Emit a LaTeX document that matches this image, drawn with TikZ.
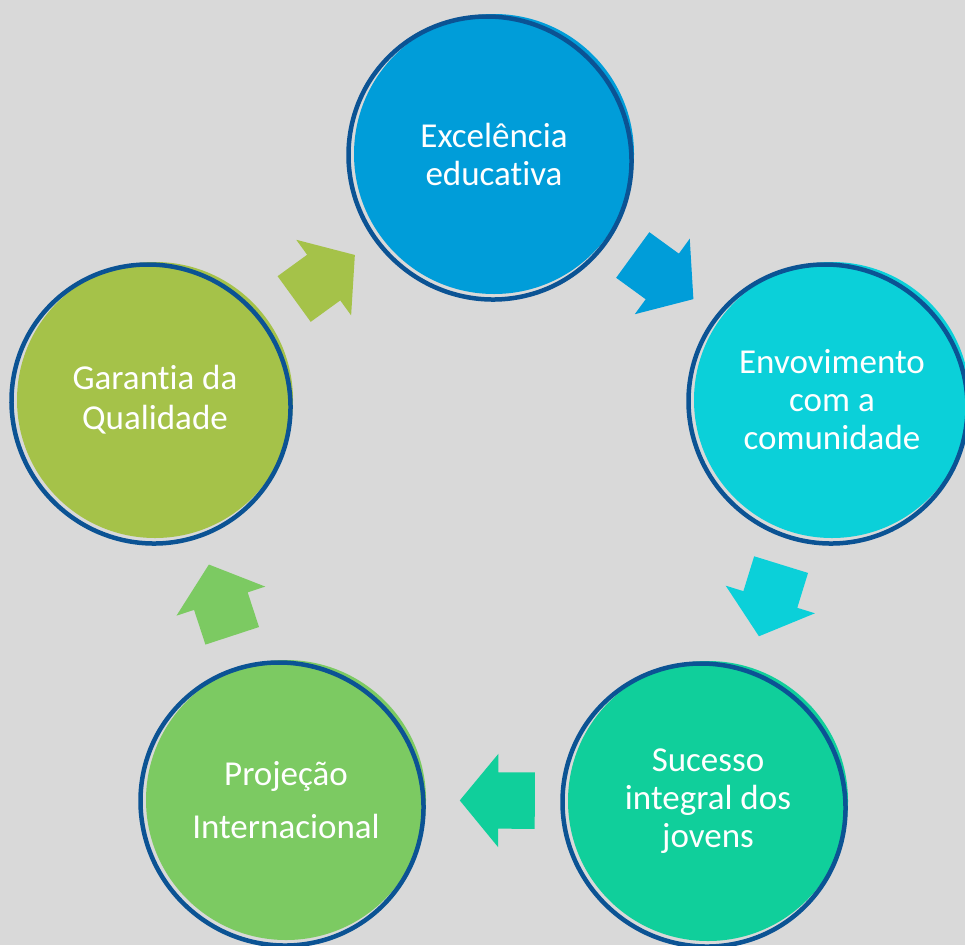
\documentclass[tikz,border=0pt]{standalone}
\usepackage{fontspec}
\setmainfont{Carlito}[Ligatures={NoCommon}]
\usepackage{xcolor}
\usepackage{tikz}
\usetikzlibrary{shapes.arrows}

\definecolor{bgGrey}{HTML}{D9D9D9}
\definecolor{ringBlue}{HTML}{0B5394}
\definecolor{excBlue}{HTML}{009DD9}
\definecolor{envCyan}{HTML}{0BD0D9}
\definecolor{sucGreen}{HTML}{10CF9B}
\definecolor{proGreen}{HTML}{7CCA62}
\definecolor{garOlive}{HTML}{A5C249}

\begin{document}
\begin{tikzpicture}[x=1pt, y=-1pt,
    bubble/.style={circle, inner sep=0pt, text=white, align=center, font=\fontsize{35}{38}\selectfont},
    ring/.style={draw=ringBlue, line width=4.5pt},
    flow/.style={single arrow, inner xsep=0pt, inner ysep=28pt, minimum height=75pt,
        single arrow head extend=18.5pt, single arrow tip angle=101,
        sloped, allow upside down, pos=0.41, anchor=tail}]
    % Background
    \clip (0,0) rectangle (965,945);
    \fill[bgGrey] (0,0) rectangle (965,945);

    % Circles
    \node[bubble, fill=excBlue, minimum size=280pt] (exc) at (494,154) {Excelência\\educativa};
    \node[bubble, fill=envCyan, minimum size=276pt] (env) at (832,400) {Envovimento\\com a\\comunidade};
    \node[bubble, fill=sucGreen, minimum size=280pt] (suc) at (708,801) {Sucesso\\integral dos\\jovens};
    \node[bubble, fill=proGreen, minimum size=280pt] (pro) at (286,800) {Projeção\\[15pt]Internacional};
    \node[bubble, fill=garOlive, minimum size=276pt] (gar) at (155,400) {Garantia da\\[2pt]Qualidade};

    % Hand-drawn rings
    \draw[ring] ([shift={(-4,4)}]exc.center) circle[x radius=143, y radius=140, rotate=-45];
    \draw[ring] ([shift={(-4,4)}]env.center) circle[x radius=141, y radius=138, rotate=-45];
    \draw[ring] ([shift={(-4,4)}]suc.center) circle[x radius=143, y radius=140, rotate=-45];
    \draw[ring] ([shift={(-4,4)}]pro.center) circle[x radius=143, y radius=140, rotate=-45];
    \draw[ring] ([shift={(-4,4)}]gar.center) circle[x radius=141, y radius=138, rotate=-45];

    % Arrows
    \path (exc.center) -- node[flow, fill=excBlue] (a1) {} (env.center);
    \path (env.center) -- node[flow, fill=envCyan] (a2) {} (suc.center);
    \path (suc.center) -- node[flow, fill=sucGreen] (a3) {} (pro.center);
    \path (pro.center) -- node[flow, fill=proGreen] (a4) {} (gar.center);
    \path (gar.center) -- node[flow, fill=garOlive] (a5) {} (exc.center);
\end{tikzpicture}
\end{document}
